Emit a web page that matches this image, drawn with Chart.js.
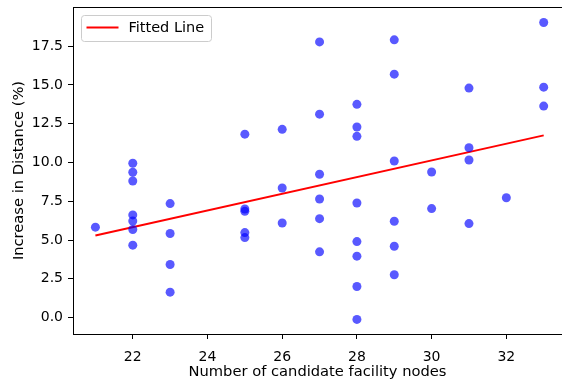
<!DOCTYPE html>
<html>
<head>
<meta charset="utf-8">
<script src="https://cdn.jsdelivr.net/npm/chart.js@4"></script>
<style>
  html, body { margin: 0; padding: 0; background: #fff; }
</style>
</head>
<body>
<canvas id="chart" width="562" height="381"></canvas>
<script>
// Scatter data
const nodes = [
    21,
    22, 22, 22, 22, 22, 22, 22,
    23, 23, 23, 23,
    25, 25, 25, 25, 25,
    26, 26, 26,
    27, 27, 27, 27, 27, 27,
    28, 28, 28, 28, 28, 28, 28, 28,
    29, 29, 29, 29, 29, 29,
    30, 30,
    31, 31, 31, 31,
    32,
    33, 33, 33
];
const increase = [
    5.83,
    9.95, 9.37, 8.81, 6.62, 6.23, 5.68, 4.67,
    7.35, 5.42, 3.42, 1.64,
    11.83, 7.0, 6.85, 5.48, 5.16,
    12.14, 8.36, 6.1,
    17.78, 13.12, 9.24, 7.65, 6.38, 4.24,
    13.75, 12.29, 11.69, 7.39, 4.9, 3.96, 2.0, -0.12,
    17.91, 15.7, 10.1, 6.21, 4.6, 2.76,
    9.39, 7.03,
    14.8, 10.95, 10.16, 6.06,
    7.73,
    19.03, 14.86, 13.64
];

// Fitted line end points
const fitX = [21, 33];
const fitY = [5.29, 11.75];

const xTicks = [22, 24, 26, 28, 30, 32];
const yTicks = [0, 2.5, 5, 7.5, 10, 12.5, 15, 17.5];

const FAMILY = "'DejaVu Sans', sans-serif";
const TICK_FONT = { family: FAMILY, size: 14 };
const TITLE_FONT = { family: FAMILY, size: 14.7 };

// matplotlib-like top spine + legend box
const frameAndLegend = {
    id: 'frameAndLegend',
    afterDraw(chart) {
        const { ctx, chartArea } = chart;
        ctx.save();
        ctx.strokeStyle = '#000';
        ctx.lineWidth = 1;
        ctx.beginPath();
        ctx.moveTo(chartArea.left, chartArea.top + 0.5);
        ctx.lineTo(chartArea.right, chartArea.top + 0.5);
        ctx.stroke();

        const ds = chart.data.datasets[1];
        const x = chartArea.left + 8.5, y = chartArea.top + 8.5;
        const w = 130, h = 26;
        ctx.fillStyle = 'rgba(255,255,255,0.8)';
        ctx.strokeStyle = '#cccccc';
        ctx.beginPath();
        ctx.roundRect(x, y, w, h, 3);
        ctx.fill();
        ctx.stroke();

        ctx.strokeStyle = ds.borderColor;
        ctx.lineWidth = 2;
        ctx.beginPath();
        ctx.moveTo(x + 5, y + 12);
        ctx.lineTo(x + 37, y + 12);
        ctx.stroke();

        ctx.fillStyle = '#000';
        ctx.font = `14.5px ${FAMILY}`;
        ctx.textBaseline = 'middle';
        ctx.fillText(ds.label, x + 47, y + 13);
        ctx.restore();
    }
};

new Chart(document.getElementById('chart'), {
    type: 'scatter',
    data: {
        datasets: [{
            label: 'Data',
            data: nodes.map((n, i) => ({ x: n, y: increase[i] })),
            backgroundColor: 'rgba(0, 0, 255, 0.65)',
            borderWidth: 0,
            pointRadius: 4.5,
            order: 0
        }, {
            type: 'line',
            label: 'Fitted Line',
            data: fitX.map((v, i) => ({ x: v, y: fitY[i] })),
            borderColor: '#ff0000',
            borderWidth: 2,
            pointRadius: 0,
            fill: false,
            order: 1
        }]
    },
    options: {
        responsive: false,
        animation: false,
        layout: { autoPadding: false, padding: { top: 7, right: 0, left: 0, bottom: 0 } },
        plugins: {
            legend: { display: false },
            tooltip: { enabled: false }
        },
        scales: {
            x: {
                type: 'linear',
                min: 20.4,
                max: 33.49,
                afterBuildTicks: s => { s.ticks = xTicks.map(v => ({ value: v })); },
                afterFit: s => { s.height = 47; s.paddingLeft = 0; s.paddingRight = 0; },
                grid: { drawOnChartArea: false, tickLength: 5, color: '#000' },
                border: { color: '#000', width: 1 },
                ticks: { color: '#000', font: TICK_FONT, padding: 10, maxRotation: 0 },
                title: {
                    display: true,
                    text: 'Number of candidate facility nodes',
                    color: '#000',
                    font: TITLE_FONT,
                    padding: { top: 0, bottom: 0 }
                }
            },
            y: {
                type: 'linear',
                min: -1.06,
                max: 20.03,
                afterBuildTicks: s => { s.ticks = yTicks.map(v => ({ value: v })); },
                afterFit: s => { s.width = 73; s.paddingTop = 0; s.paddingBottom = 0; },
                grid: { drawOnChartArea: false, tickLength: 5, color: '#000' },
                border: { color: '#000', width: 1 },
                ticks: { color: '#000', font: TICK_FONT, padding: 5, callback: v => v.toFixed(1) },
                title: {
                    display: true,
                    text: 'Increase in Distance (%)',
                    color: '#000',
                    font: TITLE_FONT,
                    padding: { top: 10, bottom: 0 }
                }
            }
        }
    },
    plugins: [frameAndLegend]
});
</script>
</body>
</html>
